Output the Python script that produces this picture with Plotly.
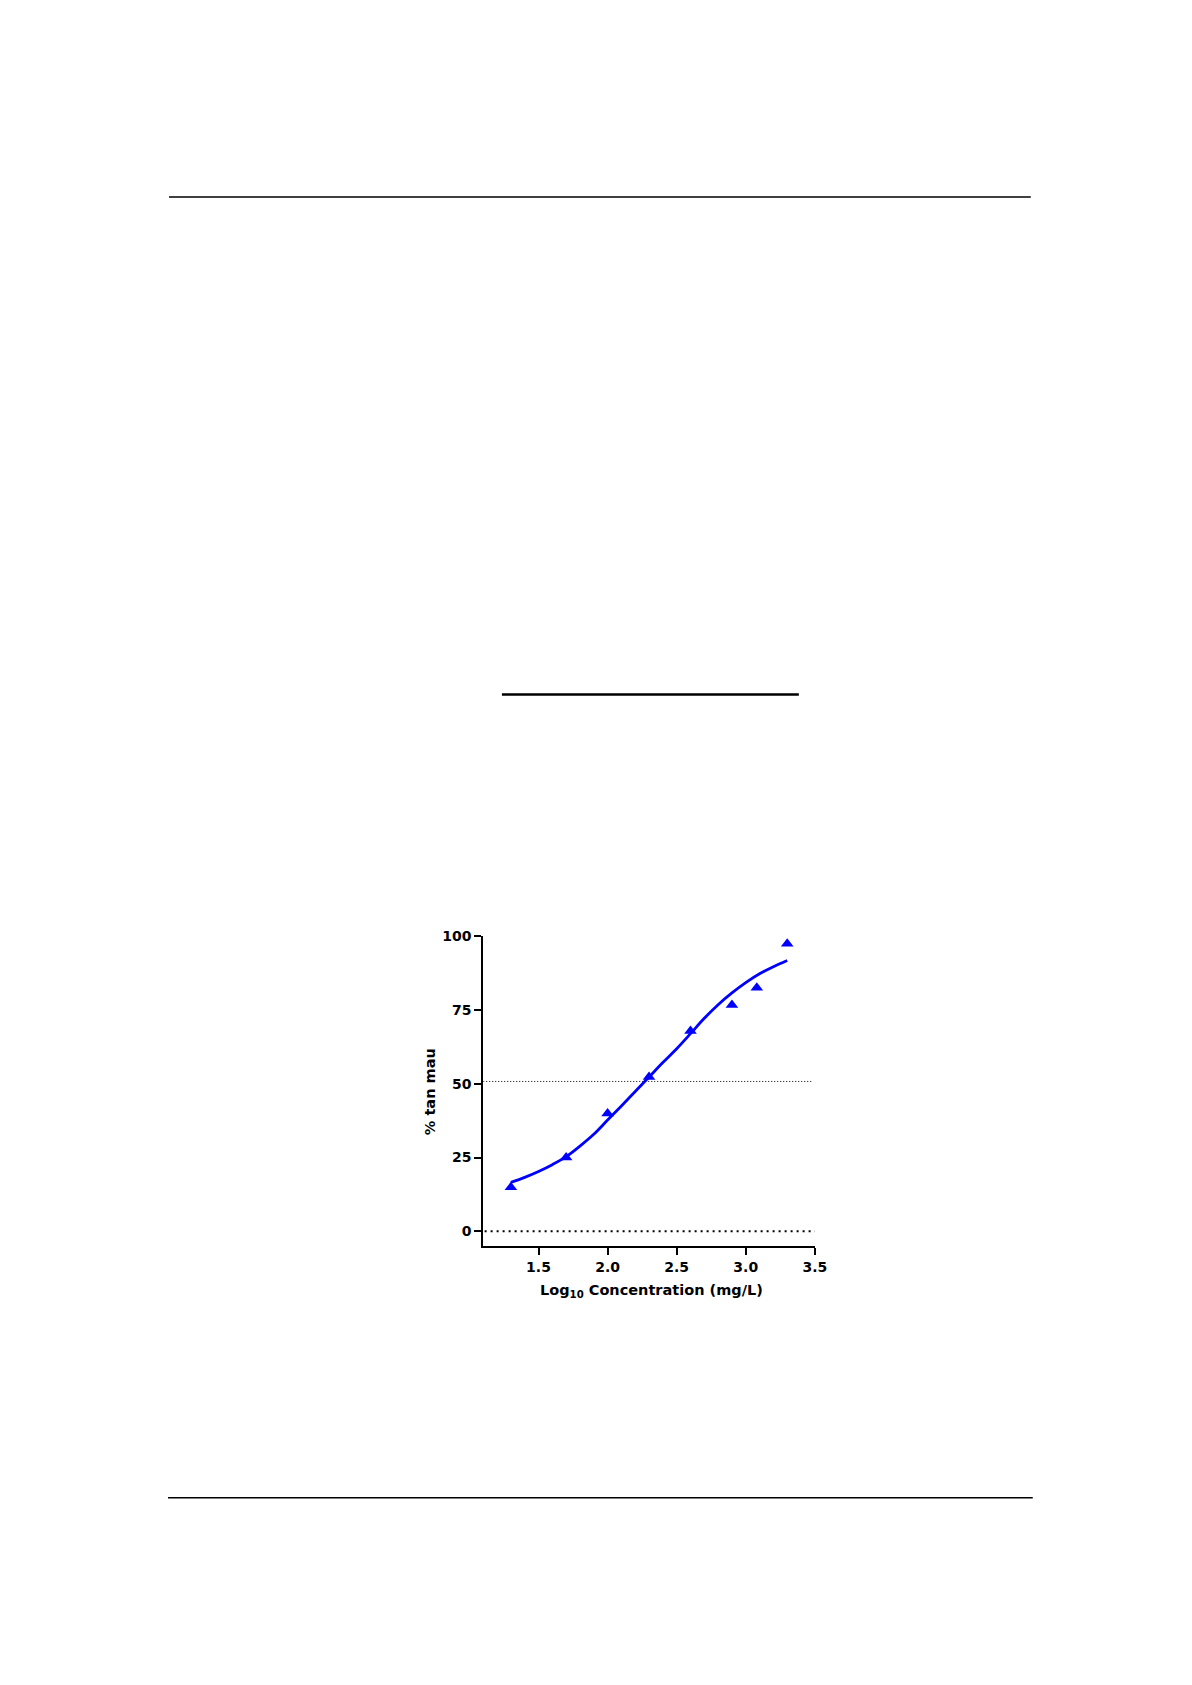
import plotly.graph_objects as go

# Data
x_points = [1.30, 1.70, 2.00, 2.30, 2.60, 2.90, 3.08, 3.30]
y_points = [14.9, 25.0, 39.9, 52.3, 67.9, 76.7, 82.6, 97.5]

curve_x = [1.30, 1.40, 1.50, 1.60, 1.70, 1.80, 1.90, 2.00, 2.10, 2.20, 2.30, 2.40,
           2.50, 2.60, 2.70, 2.80, 2.90, 3.00, 3.10, 3.20, 3.30]
curve_y = [16.6, 18.3, 20.3, 22.6, 25.3, 28.9, 32.9, 37.7, 42.5, 47.4, 52.3, 57.2,
           61.9, 67.0, 72.2, 76.8, 80.8, 84.3, 87.3, 89.7, 91.8]

half_level = 50.8
x_ticks = [1.5, 2.0, 2.5, 3.0, 3.5]
x_tick_labels = ["1.5", "2.0", "2.5", "3.0", "3.5"]
y_ticks = [0, 25, 50, 75, 100]
y_tick_labels = ["0", "25", "50", "75", "100"]

PAGE_W, PAGE_H = 1192, 1685
BODY_MARGIN = 8
W, H = PAGE_W - 2 * BODY_MARGIN, PAGE_H - 2 * BODY_MARGIN
FONT = "DejaVu Sans, Arial, sans-serif"
BLUE = "#0000ff"
XS = 1.01
YS = 1.004
Y_ANCHOR = 1497


def fx(x):
    return (x * XS - BODY_MARGIN) / W


def fy(y):
    yc = Y_ANCHOR - (Y_ANCHOR - y) * YS
    return 1 - (yc - BODY_MARGIN) / H


fig = go.Figure()

# horizontal guide lines inside plot
fig.add_trace(go.Scatter(x=[1.1, 3.48], y=[half_level, half_level], mode="lines",
                         line=dict(color="black", width=1, dash="1px,2px"),
                         hoverinfo="skip", showlegend=False))
fig.add_trace(go.Scatter(x=[1.11, 3.5], y=[0, 0], mode="lines",
                         line=dict(color="black", width=2, dash="2px,4px"),
                         hoverinfo="skip", showlegend=False))

fig.add_trace(go.Scatter(x=curve_x, y=curve_y, mode="lines",
                         line=dict(color=BLUE, width=2.8, shape="spline"),
                         showlegend=False, cliponaxis=False))
fig.add_trace(go.Scatter(x=x_points, y=y_points, mode="markers",
                         marker=dict(symbol="triangle-up", size=11, color=BLUE),
                         showlegend=False, cliponaxis=False))

axis_common = dict(showgrid=False, zeroline=False, showline=True, linecolor="black",
                   linewidth=2, ticks="outside", tickwidth=2, ticklen=7,
                   tickcolor="black",
                   tickfont=dict(family=FONT, size=14, color="black", weight="bold"))

fig.update_xaxes(range=[1.1, 3.5], tickvals=x_ticks, ticktext=x_tick_labels,
                 domain=[fx(483.3), fx(815)], **axis_common)
fig.update_yaxes(range=[-5, 100], tickvals=y_ticks, ticktext=y_tick_labels,
                 domain=[fy(1245), fy(935)], **axis_common)

shapes = [
    dict(type="line", xref="paper", yref="paper", x0=fx(169), x1=fx(1031),
         y0=fy(195), y1=fy(195), line=dict(color="black", width=1.5)),
    dict(type="line", xref="paper", yref="paper", x0=fx(502), x1=fx(799),
         y0=fy(693), y1=fy(693), line=dict(color="black", width=2.5)),
    dict(type="line", xref="paper", yref="paper", x0=fx(168), x1=fx(1033),
         y0=fy(1497), y1=fy(1497), line=dict(color="black", width=1.5)),
]

annotations = [
    dict(text="<b>Log<sub>10</sub> Concentration (mg/L)</b>", xref="paper", yref="paper",
         x=fx(652), y=fy(1290), showarrow=False, xanchor="center", yanchor="middle",
         font=dict(family=FONT, size=14.5, color="black")),
    dict(text="<b>% tan mau</b>", xref="paper", yref="paper", textangle=-90,
         x=fx(430), y=fy(1090), showarrow=False, xanchor="center", yanchor="middle",
         font=dict(family=FONT, size=14.5, color="black")),
]

fig.update_layout(width=W, height=H, margin=dict(l=0, r=0, t=0, b=0),
                  paper_bgcolor="white", plot_bgcolor="white",
                  shapes=shapes, annotations=annotations, showlegend=False)

fig.write_html("out.html", config={"displayModeBar": False})
